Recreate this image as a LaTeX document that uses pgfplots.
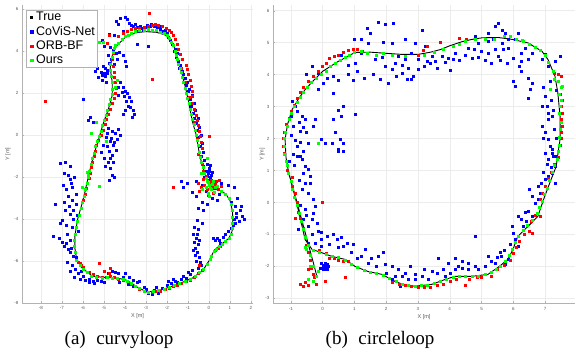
\documentclass[border=0pt]{standalone}
\usepackage{fontspec}
\setmainfont{Liberation Sans}
\newfontfamily\capfont{Liberation Serif}
\usepackage{pgfplots}
\pgfplotsset{compat=1.18}
\pgfplotsset{
  traj/.style={scale only axis, height=298pt,
    axis lines=left, axis line style={-, draw=gray!60},
    grid=major, major grid style={gray!15, line width=0.4pt},
    tick align=inside, major tick length=2pt, tick style={gray!60},
    ticklabel style={font=\fontsize{4.5}{5}\selectfont, text=gray!70!black},
    label style={font=\fontsize{5.5}{6}\selectfont, text=gray!70!black},
    /pgf/number format/assume math mode=true,
    xlabel={X [m]}, ylabel={Y [m]},
    legend image code/.code={\path[draw=none, fill=none] (0pt,0pt) -- (8pt,0pt); \fill (3.2pt,-1.3pt) rectangle (5.8pt,1.3pt);},
  },
  truestyle/.style={black, line width=0.9pt, no markers},
  pts/.style={only marks, mark=square*, mark size=1.0pt},
}
\begin{document}
\begin{tikzpicture}[x=1pt,y=1pt]
\path[use as bounding box] (0,0) rectangle (576,358);
% ---------------- (a) curvyloop ----------------
\begin{axis}[traj, at={(22pt,55pt)}, anchor=south west, width=231pt,
  xmin=-8.9, xmax=2.1, ymin=-8, ymax=6.2,
  xtick={-8,-7,...,2}, ytick={-8,-6,...,6},
  xlabel style={at={(axis description cs:0.5,-0.044)}, anchor=center},
  ylabel style={at={(axis description cs:-0.061,0.5)}, anchor=center},
  legend style={at={(0.017,0.983)}, anchor=north west, draw=gray!60, fill=white,
    font=\fontsize{12.5}{14}\selectfont, inner xsep=1pt, inner ysep=0pt, row sep=0pt,
    nodes={text height=9.5pt, text depth=2.8pt, inner sep=1pt},
    cells={anchor=west}},
]
\addplot[truestyle] coordinates {(-3.0,4.93) (-2.5,4.9) (-2.1,4.78) (-1.85,4.6) (-1.65,4.2) (-1.5,3.6) (-1.3,3.0) (-1.1,2.2) (-0.95,1.5) (-0.8,0.7) (-0.6,0.0) (-0.45,-0.9) (-0.3,-1.5) (-0.1,-2.1) (0.05,-2.45) (0.2,-2.58) (0.5,-2.62) (0.8,-2.8) (1.0,-3.1) (1.12,-3.6) (1.14,-4.05) (1.1,-4.6) (0.95,-4.92) (0.67,-5.14) (0.35,-5.4) (0.19,-5.62) (0.0,-6.0) (-0.29,-6.45) (-0.76,-6.8) (-1.5,-7.12) (-2.3,-7.38) (-2.95,-7.48) (-3.4,-7.25) (-3.9,-6.92) (-4.4,-6.8) (-5.0,-6.78) (-5.55,-6.72) (-6.05,-6.32) (-6.3,-5.9) (-6.38,-5.4) (-6.38,-4.8) (-6.25,-4.0) (-6.05,-3.3) (-5.9,-2.7) (-5.7,-1.8) (-5.5,-1.0) (-5.25,-0.2) (-5.05,0.5) (-4.8,1.2) (-4.6,1.9) (-4.6,2.5) (-4.7,3.2) (-4.6,3.8) (-4.4,4.25) (-4.0,4.65) (-3.5,4.88) (-3.0,4.93)};
\addlegendentry{True}
\addplot[pts, blue] coordinates {
(-4.4,5.45) (-4.2,5.55) (-4.0,5.6) (-3.9,5.5) (-4.3,5.3) (-3.8,5.35) (-3.6,5.2) (-3.4,5.15) (-3.2,5.1) (-3.0,5.12) (-2.8,5.18) (-2.6,5.2) (-2.45,5.15) (-2.3,5.05) (-2.2,4.95) (-3.4,4.95) (-3.15,5.0) (-2.0,4.85) (-1.95,4.65) (-1.85,4.5) (-1.75,4.35) (-4.1,4.95) (-4.5,4.75) (-3.43,4.33) (-2.9,4.25)
(-3.7,5.25) (-3.25,5.2) (-2.75,5.3) (-2.35,5.2) (-2.1,5.0) (-3.5,5.3) (-2.95,5.25)
(-4.7,4.2) (-4.55,4.05) (-4.4,3.9) (-4.25,3.95) (-4.1,3.8) (-4.0,3.5) (-4.35,3.6) (-4.5,3.4) (-4.65,3.6) (-3.95,3.3) (-5.1,4.5) (-5.0,4.25) (-4.75,4.8)
(-5.3,3.2) (-5.15,3.0) (-5.0,2.95) (-5.25,2.75) (-5.1,2.6) (-4.95,2.8) (-4.85,3.1) (-5.4,3.05) (-5.05,3.3) (-4.9,2.5)
(-4.8,3.8) (-4.75,3.45) (-4.85,2.95) (-4.95,3.2) (-5.1,2.85) (-4.3,2.3) (-4.15,2.05) (-4.3,1.9) (-3.95,1.6) (-4.0,1.2) (-4.1,1.0)
(-4.2,2.5) (-4.1,2.3) (-4.0,2.1) (-3.9,2.0) (-3.8,1.8) (-3.7,1.6) (-3.75,1.35) (-3.6,1.2) (-3.55,1.0) (-3.85,1.4) (-4.05,1.85) (-3.65,0.85)
(-5.0,0.5) (-4.8,0.35) (-4.6,0.2) (-4.45,0.1) (-4.3,0.3) (-4.9,-0.1) (-4.7,-0.3) (-4.55,-0.5) (-4.4,-0.7) (-4.75,-0.75) (-4.6,-0.95) (-5.05,-0.5) (-4.35,-0.2) (-4.2,0.0)
(-4.85,0.1) (-4.65,-0.15) (-4.5,-0.35) (-4.85,-0.55) (-4.7,-1.1) (-4.55,-1.3)
(-5.65,0.85) (-5.5,0.6) (-5.75,0.7) (-6.0,1.73)
(-5.15,-0.8) (-5.0,-1.1) (-4.8,-1.3) (-4.7,-1.6) (-4.6,-1.9) (-4.95,-1.5) (-4.5,-2.0) (-4.75,-2.15)
(-7.1,-1.35) (-6.85,-1.3) (-6.6,-1.5) (-6.4,-2.0) (-6.6,-2.1) (-6.95,-2.4) (-6.8,-2.6) (-6.5,-2.5) (-6.3,-2.8) (-6.7,-2.9) (-6.5,-3.1) (-6.3,-3.3) (-6.65,-3.4) (-6.9,-3.2) (-6.45,-3.6) (-6.25,-3.8) (-7.0,-4.05) (-7.1,-4.2) (-6.8,-4.3) (-7.4,-4.8) (-7.15,-4.9) (-7.0,-5.1) (-6.9,-5.3) (-6.75,-4.7) (-6.6,-5.0) (-6.5,-4.4) (-6.6,-5.6) (-6.45,-5.75) (-6.3,-5.8) (-6.5,-6.2) (-6.35,-6.4) (-6.2,-6.6) (-6.0,-6.7) (-5.9,-6.9) (-6.1,-6.5) (-5.7,-7.0) (-5.5,-6.95) (-7.3,-3.3) (-6.2,-4.6)
(-6.9,-1.8) (-6.7,-1.9) (-6.55,-2.3) (-6.85,-3.6) (-6.6,-3.75) (-6.45,-4.0) (-6.8,-5.15) (-6.7,-5.45) (-6.55,-5.4) (-6.75,-6.05) (-6.6,-6.5) (-6.4,-6.75) (-6.15,-6.85)
(-5.3,-6.9) (-5.0,-7.0) (-4.8,-6.6) (-4.6,-6.5) (-4.3,-6.6) (-4.1,-6.75) (-3.8,-6.75) (-3.6,-6.9) (-3.4,-7.0) (-3.1,-7.25) (-2.9,-7.55) (-2.7,-7.6) (-2.4,-7.55) (-2.2,-7.3) (-2.0,-7.15) (-1.8,-7.05) (-1.6,-6.95) (-1.3,-6.85) (-1.1,-6.8) (-0.9,-6.65) (-3.85,-7.1) (-3.6,-7.2) (-4.25,-7.0) (-2.5,-7.25) (-1.5,-7.0)
(-5.7,-6.85) (-5.45,-7.05) (-5.15,-6.95) (-4.45,-6.55) (-4.0,-6.6) (-3.3,-6.95) (-3.0,-7.35) (-2.6,-7.4) (-1.95,-6.95) (-1.7,-6.85) (-1.2,-6.7) (-1.0,-6.55) (-0.8,-6.45)
(-0.75,-4.7) (-0.6,-4.9) (-0.7,-5.1) (-0.5,-5.2) (-0.65,-5.4) (-0.55,-5.6) (-0.45,-5.8) (-0.6,-6.0) (-0.35,-6.2) (-0.5,-6.35) (-0.3,-4.2) (-0.5,-4.5) (0.3,-5.0) (0.5,-5.0) (0.7,-4.85) (0.9,-4.6) (1.15,-4.3) (1.2,-4.0) (1.3,-3.7) (1.5,-3.6) (1.6,-3.85) (1.25,-3.4) (1.05,-3.2) (1.45,-4.1) (-0.57,-4.05) (-0.76,-5.5) (0.2,-4.9) (0.52,-5.14)
(-0.7,-4.4) (-0.55,-4.7) (-0.45,-5.0) (-0.65,-5.7) (-0.4,-6.05) (0.4,-4.9) (0.8,-4.7) (1.05,-4.45) (1.25,-4.2) (1.3,-3.9) (1.55,-3.4) (1.7,-4.0)
(-1.4,3.2) (-1.2,2.9) (-1.05,2.5) (-0.95,2.2) (-0.8,1.9) (-0.7,1.5) (-0.65,1.2) (-0.5,0.8) (-0.45,0.4) (-0.38,0.0) (-0.3,-0.4) (-0.25,-0.8) (-0.2,-1.2) (-0.1,-1.4) (0.0,-1.6) (-0.05,-1.8) (0.05,-2.0) (-0.1,-1.95) (0.0,-1.7) (0.1,-1.9) (-1.65,4.0) (-1.55,3.7)
(-1.6,4.1) (-1.5,3.9) (-1.45,3.5) (-1.35,3.35) (-1.25,3.05) (-1.15,2.7) (-1.1,2.4) (-1.0,2.1) (-0.9,1.7) (-0.85,1.4) (-0.75,1.05) (-0.7,0.8) (-0.6,0.55) (-0.55,0.25) (-0.5,-0.1) (-0.42,-0.55) (-0.35,-1.0) (-0.25,-1.5) (-0.15,-1.7) (-0.2,-2.0) (0.15,-1.75) (0.05,-1.45) (-0.05,-2.15)
(-1.3,-2.2) (-1.05,-2.3) (-0.8,-2.7) (-0.6,-2.9) (-0.3,-3.2) (-0.1,-3.3) (0.15,-3.0) (0.4,-3.1) (0.6,-2.3) (0.9,-2.4) (1.2,-2.5) (1.35,-3.0) (-0.5,-3.5) (-0.25,-3.6) (-1.2,-2.5)
(-0.3,-2.4) (0.0,-2.3) (0.25,-2.2) (-0.15,-2.65) (0.5,-2.8) (-0.6,-2.2)
};
\addlegendentry{CoViS-Net}
\addplot[pts, red] coordinates {
(-4.75,4.75) (-4.85,4.4) (-4.3,4.7) (-4.1,4.85) (-3.9,4.95) (-3.7,5.05) (-3.5,5.1) (-3.3,5.1) (-3.1,5.15) (-2.9,5.2) (-2.7,5.25) (-2.55,5.3) (-2.4,5.25) (-2.2,5.2) (-2.05,5.1) (-1.9,5.0) (-1.8,4.9) (-1.7,4.75) (-1.6,4.55) (-2.85,5.8)
(-1.5,4.35) (-1.45,4.1) (-1.35,3.85) (-1.25,3.6) (-1.1,3.35) (-1.05,3.15) (-1.0,2.9) (-0.9,2.6) (-0.85,2.35) (-0.8,2.1) (-0.78,1.85) (-0.8,1.5) (-0.7,1.25) (-0.6,0.95) (-0.55,0.7) (-0.5,0.45) (-0.45,0.2) (-0.4,-0.05) (-0.35,-0.35) (-0.3,-0.6) (-0.5,-0.9)
(-1.3,3.2) (-1.15,2.5) (-0.95,1.8) (-0.7,0.6) (-0.55,-0.2) (-0.42,-1.0) (-0.3,-1.4) (-0.25,-1.7) (-0.15,-1.95) (-0.1,-2.15)
(-0.5,-2.3) (-0.35,-2.5) (-0.2,-2.4) (-0.1,-2.6) (0.05,-2.3) (0.15,-2.5) (0.3,-2.35) (0.45,-2.6) (0.2,-2.75) (-0.05,-2.85) (0.35,-2.2) (0.5,-2.15) (-0.45,-2.65) (0.1,-2.15) (0.6,-2.45) (-0.25,-2.1)
(0.0,-0.03) (-1.7,-2.46) (-7.8,1.62) (-2.7,2.65) (-5.2,-6.1) (-4.7,-6.35)
(-4.55,3.9) (-4.6,3.6) (-4.55,3.3) (-4.5,3.0) (-4.52,2.75) (-4.45,2.5) (-4.4,2.25) (-4.48,2.0) (-4.5,1.75) (-4.6,1.5) (-4.7,1.25) (-4.8,1.0) (-4.9,0.75) (-4.95,0.5) (-5.05,0.25) (-5.15,0.0) (-5.25,-0.25) (-5.35,-0.5) (-5.4,-0.75) (-5.48,-1.0) (-5.55,-1.3) (-5.6,-1.55) (-5.65,-1.8) (-5.7,-2.05) (-5.78,-2.3) (-5.85,-2.55) (-5.9,-2.8) (-6.0,-3.1)
(-6.2,-6.05) (-6.1,-6.2) (-6.0,-6.3) (-6.15,-6.1)
(-5.7,-6.55) (-5.5,-6.65) (-5.3,-6.7) (-5.1,-6.75) (-4.9,-6.75) (-4.7,-6.72) (-4.5,-6.78) (-4.3,-6.85) (-4.1,-6.9) (-3.9,-6.95) (-3.7,-7.1) (-3.5,-7.2) (-3.3,-7.35) (-3.1,-7.45) (-2.9,-7.5) (-2.7,-7.48) (-2.5,-7.45) (-2.3,-7.42) (-2.1,-7.35) (-1.9,-7.28) (-1.7,-7.2) (-1.5,-7.15) (-1.3,-7.05) (-1.1,-6.98) (-0.9,-6.9) (-0.7,-6.78) (-0.5,-6.6) (-0.3,-6.45) (-0.45,-6.2) (0.43,-5.4) (0.55,-5.3) (0.3,-5.5) (-4.75,-6.6) (-5.0,-6.5)
};
\addlegendentry{ORB-BF}
\addplot[pts, green] coordinates {
(-4.45,4.3) (-4.3,4.4) (-4.15,4.55) (-4.0,4.7) (-3.85,4.78) (-3.7,4.85) (-3.5,4.95) (-3.3,5.0) (-3.1,5.02) (-2.9,5.05) (-2.7,5.0) (-2.5,4.98) (-2.3,4.92) (-2.15,4.85) (-2.0,4.75) (-1.9,4.62) (-1.78,4.45) (-1.7,4.3) (-5.2,4.43) (-5.05,4.45)
(-1.6,4.0) (-1.55,3.8) (-1.5,3.6) (-1.45,3.4) (-1.38,3.2) (-1.3,3.0) (-1.25,2.75) (-1.2,2.5) (-1.12,2.25) (-1.08,2.0) (-1.02,1.75) (-0.95,1.5) (-0.9,1.25) (-0.85,1.0) (-0.78,0.75) (-0.72,0.5) (-0.65,0.25) (-0.6,0.0) (-0.55,-0.25) (-0.5,-0.5) (-0.45,-0.8) (-0.4,-1.05) (-0.35,-1.3) (-0.28,-1.55) (-0.2,-1.8) (-0.12,-2.05) (-0.05,-2.25) (0.0,-2.4)
(-0.15,-2.5) (0.1,-2.6) (0.25,-2.7) (-0.05,-2.75) (0.15,-2.35) (0.3,-2.5) (-0.3,-2.6) (0.0,-2.9) (0.4,-2.45) (0.2,-2.2) (-0.1,-2.2) (0.05,-2.55) (-0.35,-1.8) (-0.1,-1.1)
(0.6,-2.65) (0.8,-2.8) (0.95,-3.0) (1.05,-3.3) (1.1,-3.6) (1.12,-3.9) (1.13,-4.2) (1.1,-4.45) (1.05,-4.7) (0.95,-4.9) (0.8,-5.05) (0.62,-5.18) (0.48,-5.3) (0.35,-5.42) (0.25,-5.55) (0.12,-5.75) (0.05,-5.9)
(-0.1,-6.15) (-0.25,-6.4) (-0.45,-6.55) (-0.65,-6.72) (-0.9,-6.85) (-1.15,-6.95) (-1.4,-7.08) (-1.65,-7.15) (-1.9,-7.25) (-2.15,-7.32) (-2.4,-7.4) (-2.65,-7.45) (-2.9,-7.48) (-3.1,-7.42) (-3.3,-7.3) (-3.5,-7.18) (-3.7,-7.05) (-3.9,-6.95) (-4.1,-6.88) (-4.35,-6.82) (-4.6,-6.8) (-4.85,-6.78) (-5.1,-6.8) (-5.35,-6.75) (-5.6,-6.7) (-5.8,-6.55) (-6.0,-6.4) (-6.15,-6.2)
(-6.3,-5.95) (-6.38,-5.6) (-6.42,-5.3) (-6.4,-5.0) (-6.38,-4.7) (-6.33,-4.4) (-6.25,-4.1) (-6.18,-3.8) (-6.1,-3.5) (-6.02,-3.2) (-5.95,-2.9) (-5.88,-2.6) (-5.8,-2.3) (-5.75,-2.0) (-5.68,-1.7) (-5.6,-1.4) (-5.55,-1.1) (-5.48,-0.85) (-5.4,-0.55) (-5.3,-0.3) (-5.22,-0.05) (-5.15,0.2) (-5.08,0.45) (-5.0,0.7) (-4.9,0.95) (-4.85,1.2) (-4.75,1.45) (-4.68,1.7) (-4.62,1.95) (-4.6,2.2) (-4.62,2.5) (-4.65,2.8) (-4.7,3.1) (-4.68,3.4) (-4.62,3.7) (-4.55,3.95) (-4.5,4.15)
(-5.6,0.1) (-5.8,-1.75) (-6.05,-2.5) (-5.35,0.6) (-4.9,-0.3) (-4.45,2.3) (-4.35,2.6) (-5.2,-2.43) (-5.76,-1.9)
};
\addlegendentry{Ours}
\end{axis}
% ---------------- (b) circleloop ----------------
\begin{axis}[traj, at={(273pt,54.5pt)}, anchor=south west, width=302pt,
  xmin=-1.56, xmax=7.94, ymin=-3.16, ymax=6.16,
  xtick={-1,0,...,7}, ytick={-3,-2,...,6},
  xlabel style={at={(axis description cs:0.5,-0.044)}, anchor=center},
  ylabel style={at={(axis description cs:-0.036,0.5)}, anchor=center},
]
\addplot[truestyle] coordinates {(-0.17,-2.35) (-0.3,-1.85) (-0.45,-1.3) (-0.6,-0.75) (-0.75,-0.2) (-0.9,0.35) (-1.05,0.85) (-1.15,1.4) (-1.18,1.97) (-1.1,2.45) (-0.96,2.9) (-0.75,3.25) (-0.55,3.53) (-0.25,3.85) (0.0,4.1) (0.49,4.41) (1.02,4.69) (1.5,4.7) (2.06,4.66) (2.5,4.63) (3.0,4.63) (3.4,4.7) (3.7,4.78) (4.0,4.9) (4.39,5.03) (4.7,5.1) (5.02,5.15) (5.52,5.16) (5.96,5.1) (6.46,4.99) (6.9,4.73) (7.09,4.47) (7.31,3.95) (7.4,3.43) (7.47,2.7) (7.47,1.97) (7.4,1.5) (7.35,1.13) (7.15,0.62) (6.95,0.09) (6.77,-0.44) (6.46,-0.75) (6.14,-1.06) (5.99,-1.47) (5.83,-1.78) (5.52,-2.03) (5.2,-2.25) (4.7,-2.31) (4.17,-2.31) (3.85,-2.41) (3.44,-2.56) (2.9,-2.62) (2.5,-2.55) (2.28,-2.47) (1.87,-2.25) (1.43,-2.16) (1.02,-2.0) (0.71,-1.78) (0.3,-1.69) (0.0,-1.58) (-0.33,-1.47) (-0.55,-1.16) (-0.68,-0.6) (-0.82,0.0) (-0.98,0.6) (-1.1,1.1)};
\addplot[pts, blue] coordinates {
(-0.97,3.17) (-0.86,3.01) (-0.81,2.85) (-0.65,2.7) (-0.92,2.38) (-0.55,2.6) (-0.71,2.23) (-0.5,2.19) (-0.81,1.76) (-0.71,1.45) (-0.92,1.5) (-0.29,2.38) (-0.24,2.6) (-0.45,1.86)
(-1.0,2.7) (-0.75,2.5) (-0.6,2.35) (-1.0,2.1) (-0.85,1.95) (-0.7,1.9) (-1.05,1.3) (-0.9,1.15) (-0.75,0.7) (-0.4,0.6) (-0.5,-0.4) (-0.7,-0.1)
(-0.34,4.26) (-0.13,4.03) (0.03,3.72) (0.13,3.89) (0.34,3.94) (0.5,3.83) (0.34,3.43) (0.81,4.0) (0.97,3.83) (1.02,4.36) (1.23,4.68) (1.23,5.1) (1.49,5.3) (1.44,4.97) (1.65,4.47) (1.86,4.53) (1.97,4.26) (2.18,4.16) (2.28,4.36) (2.07,3.74) (2.49,4.05) (2.65,3.84) (2.8,3.84) (2.6,4.47) (2.39,4.57) (2.18,4.99) (2.23,5.62) (1.75,5.63) (1.97,5.56) (1.4,5.44)
(0.8,4.3) (1.1,4.1) (1.3,3.9) (1.6,4.0) (1.8,3.85) (2.3,3.95) (2.5,4.3) (2.7,4.2) (3.2,4.25) (3.4,4.35) (3.6,4.2) (3.85,4.4) (4.3,4.45) (4.5,4.6) (4.7,4.5) (4.9,4.55) (5.1,4.45) (5.3,4.35) (5.6,4.45) (5.8,4.35) (6.0,4.5) (6.2,4.25) (1.9,5.0) (2.6,5.1) (0.2,4.5) (-0.5,4.0) (0.6,4.6) (4.0,4.15) (1.0,5.1)
(3.12,5.4) (2.91,4.99) (3.23,4.9) (2.8,4.67) (3.01,4.47) (3.28,4.42) (3.44,4.57) (3.55,4.42) (3.75,4.57) (3.96,4.52) (4.12,4.47) (4.17,4.68) (3.01,4.16) (2.86,3.94)
(4.8,5.2) (4.9,4.99) (5.2,5.05) (5.2,5.3) (5.42,5.51) (5.53,5.61) (5.64,5.4) (5.74,5.3) (5.37,5.1) (5.64,4.99) (5.84,5.1) (4.99,4.73) (5.42,4.78) (5.53,4.57) (5.69,4.78) (5.84,4.83) (4.78,4.78) (4.57,4.83) (5.2,4.68)
(6.16,5.3) (6.05,5.1) (6.37,4.83) (6.26,4.68) (6.47,4.47) (6.26,4.42) (6.58,4.68) (7.0,4.63) (6.9,4.47) (7.1,4.26) (7.47,4.57) (7.31,4.42) (6.26,4.1) (6.47,3.9) (6.58,3.73) (6.0,3.79) (6.05,3.63) (6.52,3.53) (6.47,3.27)
(7.0,3.32) (7.05,3.01) (7.1,2.8) (7.21,2.7) (7.1,2.6) (7.0,2.19) (7.1,1.97) (7.15,1.76) (7.21,1.55) (7.31,1.45) (7.0,1.55) (7.26,2.9) (6.9,3.01)
(6.9,2.4) (6.95,2.0) (7.05,1.2) (7.2,1.1) (7.3,2.3) (7.35,2.0) (7.2,3.2) (7.35,3.5) (7.15,3.8) (6.95,3.6) (6.5,0.4) (6.6,0.2) (6.95,0.95)
(0.5,2.9) (0.6,2.7) (0.66,3.01) (0.39,2.19) (0.29,1.86) (0.55,1.97) (0.34,2.6) (1.02,2.76) (-0.03,1.97) (0.08,1.86) (0.66,1.86) (0.66,1.6) (0.5,1.6) (-0.13,3.53)
(-0.81,1.45) (-0.65,1.34) (-0.55,1.14) (-0.45,1.03) (-0.6,0.93) (-0.39,0.82) (-0.55,0.61) (-0.65,0.41) (-0.45,0.3) (-0.29,0.09) (-0.24,-0.13) (-0.29,-0.34) (-0.55,-0.22) (-0.6,-0.53) (-0.34,-0.53) (-0.18,-0.66) (-0.45,-0.75) (-0.13,-0.89) (-0.34,-0.99) (-0.03,-0.94) (0.13,-1.05) (-0.03,-1.15) (-0.24,-1.26) (-0.03,-1.36)
(0.34,-0.99) (0.45,-1.15) (0.6,-1.1) (0.76,-1.26) (0.97,-1.31) (0.66,-1.36) (1.34,-1.47) (1.23,-1.68) (1.54,-1.73) (1.75,-1.68) (1.91,-1.57) (1.96,-1.94) (2.18,-2.0) (2.39,-2.1) (2.28,-2.31) (2.49,-2.31) (2.44,-2.62) (2.7,-2.41) (2.75,-1.99) (2.91,-2.25) (3.12,-2.31) (3.33,-2.41) (3.44,-2.14) (3.65,-1.73) (3.6,-2.2) (3.86,-2.31) (3.96,-1.89) (4.17,-1.73) (4.28,-1.99) (4.38,-2.05) (4.59,-2.1) (4.17,-2.1) (4.59,-1.89) (4.8,-1.05) (4.9,-2.1) (5.1,-1.99) (5.2,-1.68) (5.42,-1.89) (5.63,-1.68) (5.74,-1.94) (5.84,-1.78) (5.58,-1.57)
(0.2,-1.3) (0.5,-1.4) (0.9,-1.55) (1.1,-1.75) (1.45,-1.9) (1.7,-2.0) (2.0,-2.2) (2.2,-2.4) (2.6,-2.2) (2.9,-2.4) (3.2,-2.1) (3.8,-2.1) (4.0,-2.2) (4.4,-1.85) (4.8,-2.0) (5.3,-1.85) (5.5,-1.7) (5.7,-1.5) (5.9,-1.3) (6.3,-0.75) (6.4,-0.6)
(5.95,-0.74) (6.0,-0.95) (6.16,-0.43) (6.26,-0.53) (6.37,-0.32) (6.47,-0.27) (6.58,-0.43) (6.68,-0.01) (6.79,0.09) (6.84,0.3) (6.79,0.51) (6.89,0.61) (7.0,0.72) (7.1,0.82) (7.21,0.93) (7.31,0.61) (6.05,-1.15) (6.16,-1.36)
(-0.03,-1.89) (0.03,-2.0) (0.08,-2.05) (0.13,-1.94) (0.03,-2.1) (0.13,-2.1) (0.18,-2.0) (-0.08,-2.05) (0.08,-1.89) (0.1,-1.97) (0.05,-1.95) (0.15,-2.05) (0.0,-2.05) (0.1,-2.1) (-0.76,-0.84) (-0.45,-1.26) (0.5,1.66) (-0.6,1.6) (7.21,1.66) (7.26,1.45) (7.1,1.34) (7.31,1.14)
};
\addplot[pts, red] coordinates {
(-1.25,2.0) (-1.2,2.2) (-1.15,2.45) (-1.05,2.65) (-1.0,2.85) (-0.9,3.05) (-0.8,3.25) (-0.7,3.45) (-0.6,3.6) (-0.45,3.8) (-0.3,3.95) (-0.15,4.1) (0.0,4.25) (0.1,4.35) (0.2,4.5) (0.35,4.58) (0.5,4.62) (0.65,4.7) (0.8,4.75) (0.95,4.8) (1.1,4.8) (1.25,4.72)
(3.7,5.0) (3.3,4.9) (3.15,4.75) (3.0,4.6) (4.3,5.15) (4.53,5.1)
(7.3,4.05) (7.4,4.0) (7.5,3.95) (7.4,3.8) (7.5,3.6) (7.48,3.4) (7.55,3.2) (7.5,3.0) (7.55,2.8) (7.5,2.6) (7.55,2.4) (7.5,2.2) (7.52,2.0) (7.48,1.8) (7.42,1.6) (7.4,1.4) (7.3,1.2) (7.2,0.95) (7.1,0.75) (7.0,0.5) (6.9,0.3) (6.85,0.1) (6.8,-0.15) (6.7,-0.4) (6.55,-0.6) (6.5,-0.9) (6.35,-1.0) (6.2,-1.2) (6.1,-1.4) (6.0,-1.6) (5.9,-1.8) (5.7,-1.95) (5.5,-2.1) (6.84,-0.44) (6.6,-0.95)
(5.3,-2.3) (5.0,-2.35) (4.85,-2.35) (4.6,-2.4) (4.48,-2.6) (4.2,-2.4) (4.0,-2.45) (3.8,-2.55) (3.6,-2.6) (3.4,-2.65) (3.2,-2.65) (3.0,-2.65) (2.8,-2.63) (2.6,-2.6) (2.4,-2.55) (2.2,-2.5) (0.8,-1.84)
(-0.95,0.8) (-0.95,0.5) (-0.85,0.3) (-0.8,0.0) (-0.78,-0.3) (-0.7,-0.5) (-0.85,-0.5) (-0.6,-0.8) (-0.55,-1.1) (-0.5,-1.35) (-0.45,-1.55) (-0.4,-1.8) (-0.35,-2.05) (-0.3,-2.25) (-0.25,-2.35) (-0.45,-2.1) (-0.1,-1.5) (0.1,-1.6) (0.2,-1.75) (0.35,-1.75) (0.5,-1.8) (0.65,-1.85) (-0.55,-2.5) (-0.7,-2.55) (-0.6,-2.62) (-0.45,-2.6) (-0.2,-2.55) (0.0,0.0) (0.08,-2.47) (0.71,-2.34)
(-1.1,1.0) (-1.15,1.3) (-1.2,1.55) (-1.25,1.75)
};
\addplot[pts, green] coordinates {
(-1.2,1.5) (-1.22,1.75) (-1.2,2.0) (-1.17,2.2) (-1.12,2.4) (-1.05,2.6) (-0.98,2.8) (-0.9,3.0) (-0.8,3.15) (-0.7,3.3) (-0.6,3.45) (-0.48,3.6) (-0.35,3.75) (-0.2,3.88) (-0.05,4.0) (0.1,4.12) (0.25,4.25) (0.4,4.35) (0.55,4.45) (0.7,4.55) (0.85,4.62) (1.0,4.7) (1.2,4.72) (1.4,4.68) (1.7,4.6) (1.9,4.68)
(2.2,4.62) (2.6,4.58) (3.2,4.62) (3.5,4.7) (3.8,4.78) (4.1,4.88) (4.3,4.95) (4.5,5.05) (4.8,5.12) (5.1,5.1) (5.4,5.12) (5.7,5.2) (5.9,5.2) (6.1,5.12) (6.3,5.05) (6.5,4.95) (6.7,4.85) (6.85,4.75) (7.0,4.6) (7.1,4.4) (7.25,4.1) (7.3,3.85) (7.42,3.8) (7.5,3.6) (7.45,3.4) (7.5,3.2) (7.48,3.0) (7.45,2.8) (7.5,2.5) (7.48,2.3) (7.45,2.05) (7.43,1.8) (7.4,1.6) (7.38,1.35) (7.3,1.15) (7.22,0.95) (7.12,0.7) (7.05,0.45) (6.98,0.25) (6.9,0.05) (6.82,-0.15) (6.75,-0.35) (6.6,-0.55) (6.45,-0.72) (6.3,-0.88) (6.15,-1.05) (6.05,-1.25) (5.98,-1.45) (5.88,-1.65) (5.75,-1.85) (5.6,-1.98) (5.45,-2.08) (5.3,-2.18) (5.1,-2.25) (4.9,-2.3) (4.7,-2.32) (4.5,-2.3) (4.3,-2.3) (4.1,-2.33) (3.9,-2.4) (3.7,-2.47) (3.5,-2.53) (3.3,-2.58) (3.1,-2.6) (2.9,-2.62) (2.7,-2.6) (2.5,-2.55) (2.3,-2.47) (2.1,-2.38) (1.9,-2.27) (1.7,-2.22) (1.5,-2.18) (1.3,-2.12) (1.1,-2.03) (0.9,-1.92) (0.7,-1.8) (0.5,-1.72) (0.3,-1.68) (0.1,-1.62) (-0.1,-1.55) (-0.3,-1.48) (-0.45,-1.35)
(-0.55,-1.1) (-0.62,-0.85) (-0.68,-0.6) (-0.75,-0.35) (-0.8,-0.1) (-0.88,0.15) (-0.95,0.4) (-1.0,0.65) (-1.08,0.9) (-1.12,1.15) (-1.15,1.3)
(-0.2,-2.3) (-0.3,-2.45) (-0.45,-2.4) (-0.28,-2.0) (-0.38,-1.65) (-0.5,-1.45) (-0.15,-2.15) (-0.39,-2.0) (-0.55,-1.4) (-0.15,1.85) (7.15,3.53) (6.27,5.09) (7.53,3.63)
};
\end{axis}
\node[font=\capfont\fontsize{19}{22}\selectfont] at (119,18) {(a)\hspace{0.3em} curvyloop};
\node[font=\capfont\fontsize{19}{22}\selectfont] at (380,18) {(b)\hspace{0.3em} circleloop};
\end{tikzpicture}
\end{document}
